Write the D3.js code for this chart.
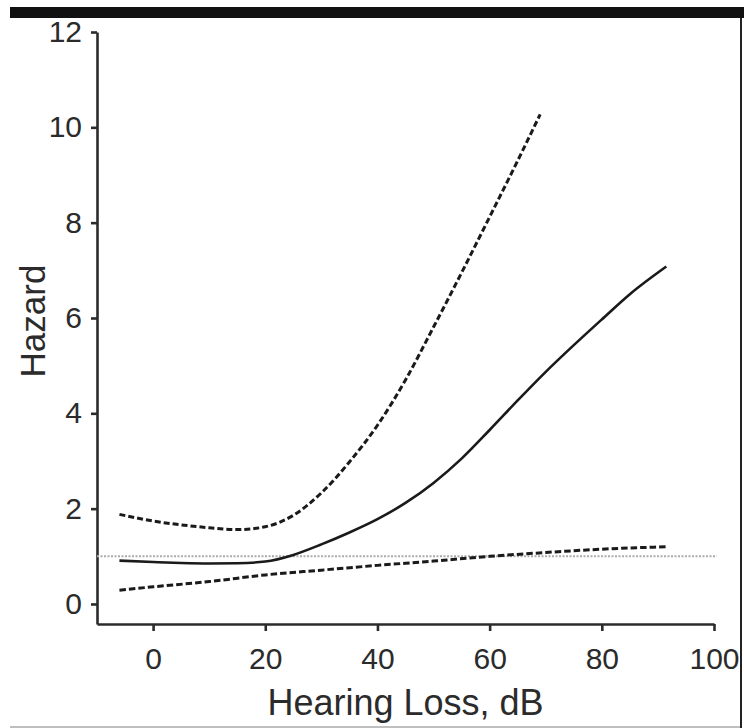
<!DOCTYPE html>
<html>
<head>
<meta charset="utf-8">
<script src="https://cdn.jsdelivr.net/npm/d3@7"></script>
<style>
  body { margin: 0; background: #fff; }
  svg { display: block; font-family: "Liberation Sans", Arial, sans-serif; }
</style>
</head>
<body>
<div class="chart"></div>
<script>
// hearing loss (dB) vs hazard, estimate + confidence band
var estX = [-6, 0, 5, 10, 15, 20, 25, 30, 35, 40, 45, 50, 55, 60, 65, 70, 75, 80, 85, 91.5];
var estY = [0.91, 0.88, 0.86, 0.85, 0.855, 0.89, 1.03, 1.25, 1.5, 1.78, 2.12, 2.54, 3.05, 3.65, 4.27, 4.87, 5.43, 5.97, 6.5, 7.08];

var upperX = [-6, 0, 5, 10, 15, 20, 25, 30, 35, 40, 45, 50, 55, 60, 65, 69];
var upperY = [1.88, 1.74, 1.66, 1.6, 1.56, 1.62, 1.86, 2.33, 2.98, 3.75, 4.7, 5.81, 6.95, 8.12, 9.3, 10.27];

var lowerX = [-6, 0, 10, 20, 30, 40, 50, 60, 70, 80, 91.5];
var lowerY = [0.29, 0.36, 0.47, 0.61, 0.71, 0.81, 0.9, 1.0, 1.08, 1.15, 1.2];

var xTicks = [0, 20, 40, 60, 80, 100];
var yTicks = [0, 2, 4, 6, 8, 10, 12];
var refHazard = 1;

var width = 744;
var height = 728;

var svg = d3.select(".chart").append("svg")
    .attr("width", width)
    .attr("height", height);

// frame bits from the scanned figure
svg.append("rect")
    .attr("x", 10).attr("y", 7)
    .attr("width", width - 10).attr("height", 11)
    .attr("fill", "#111");
svg.append("line")
    .attr("x1", 741).attr("x2", 741).attr("y1", 18).attr("y2", height)
    .attr("stroke", "#222").attr("stroke-width", 2);
svg.append("line")
    .attr("x1", 10).attr("x2", 740).attr("y1", 727).attr("y2", 727)
    .attr("stroke", "#aaa").attr("stroke-width", 1.5);

var x = d3.scaleLinear().domain([-10, 100]).range([97, 714]);
var y = d3.scaleLinear().domain([-0.42, 12]).range([624, 32]);

var xAxis = svg.append("g")
    .attr("transform", "translate(0," + y(-0.42) + ")")
    .call(d3.axisBottom(x).tickValues(xTicks).tickSize(7).tickSizeOuter(0).tickPadding(17));

var yAxis = svg.append("g")
    .attr("transform", "translate(" + x(-10) + ",0)")
    .call(d3.axisLeft(y).tickValues(yTicks).tickSize(6).tickSizeOuter(0).tickPadding(9));

[xAxis, yAxis].forEach(function(g) {
    g.select(".domain").attr("stroke", "#2b2b2b").attr("stroke-width", 2.6);
    g.selectAll(".tick line").attr("stroke", "#2b2b2b").attr("stroke-width", 2.6);
    g.selectAll(".tick text")
        .attr("fill", "#2b2b2b")
        .style("font-size", "30px")
        .style("font-family", "'Liberation Sans', Arial, sans-serif");
});

// reference line at hazard = 1
svg.append("line")
    .attr("x1", x(-10)).attr("x2", x(100.5))
    .attr("y1", y(refHazard)).attr("y2", y(refHazard))
    .attr("stroke", "#ababab")
    .attr("stroke-width", 2)
    .attr("stroke-dasharray", "2,1.5");

var line = d3.line()
    .x(function(d) { return x(d[0]); })
    .y(function(d) { return y(d[1]); })
    .curve(d3.curveMonotoneX);

function pairs(xs, ys) {
    return xs.map(function(v, i) { return [v, ys[i]]; });
}

svg.append("path")
    .attr("d", line(pairs(lowerX, lowerY)))
    .attr("fill", "none")
    .attr("stroke", "#1a1a1a")
    .attr("stroke-width", 3)
    .attr("stroke-dasharray", "6.5,3");

svg.append("path")
    .attr("d", line(pairs(upperX, upperY)))
    .attr("fill", "none")
    .attr("stroke", "#1a1a1a")
    .attr("stroke-width", 3)
    .attr("stroke-dasharray", "6,3");

svg.append("path")
    .attr("d", line(pairs(estX, estY)))
    .attr("fill", "none")
    .attr("stroke", "#1a1a1a")
    .attr("stroke-width", 2.6);

// axis titles
svg.append("text")
    .attr("x", 405.5)
    .attr("y", 715)
    .attr("text-anchor", "middle")
    .attr("fill", "#2b2b2b")
    .style("font-size", "36px")
    .text("Hearing Loss, dB");

svg.append("text")
    .attr("transform", "translate(45,321) rotate(-90)")
    .attr("text-anchor", "middle")
    .attr("fill", "#2b2b2b")
    .style("font-size", "35px")
    .text("Hazard");
</script>
</body>
</html>
